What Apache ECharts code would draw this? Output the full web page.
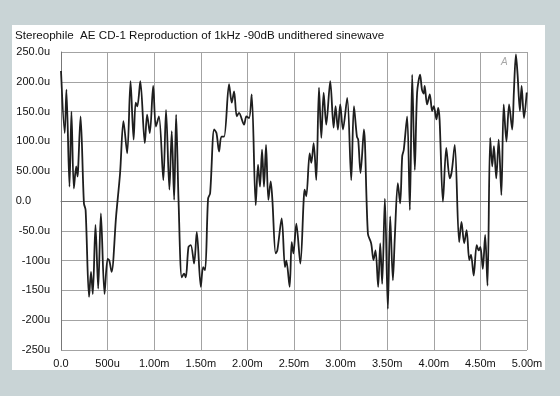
<!DOCTYPE html>
<html>
<head>
<meta charset="utf-8">
<script src="https://cdn.jsdelivr.net/npm/echarts@6/dist/echarts.min.js"></script>
<style>
html,body{margin:0;padding:0;background:#c9d4d6;}
#c{width:560px;height:396px;}
</style>
</head>
<body>
<div id="c"></div>
<script>
// time in microseconds
var timeUs = [0,40,58,91,112,138,163,178,185,210,246,264,301,322,341,370,399,428,467,500,518,543,591,634,670,710,746,779,801,819,851,899,924,953,989,1018,1051,1098,1127,1163,1188,1214,1235,
1261,1296,1321,1339,1368,1393,1428,1457,1500,1525,1546,1578,1600,1643,1668,1696,1721,1750,1803,1832,1857,1886,1910,1964,1989,2018,2046,2089,2114,2135,2157,2178,2200,2225,2250,2268,2303,2321,2368,2403,2418,2453,2475,2493,2525,
2568,2604,2614,2632,2668,2686,2711,2739,2768,2793,2818,2846,2889,2925,2946,2971,2996,3025,3071,3114,3143,3175,3189,3214,3250,3293,3328,3353,3375,3403,3425,3446,3475,3507,3532,3561,3582,3614,3639,3661,3678,3714,3743,3768,3796,3821,3853,
3873,3892,3902,3928,3957,3982,4000,4029,4047,4062,4098,4134,4171,4192,4225,4272,4297,4326,4352,4381,4399,4428,4460,4482,4500,4526,4551,4576,4605,4627,4645,4670,4696,4725,4750,4779,4808,4841,4859,4881,4899,4924,4942,4968,4997];
// amplitude in micro-units
var valueU = [218,114,187,24,150,21,58,41,58,142,-4,-15,-161,-119,-156,-40,-147,-21,-156,-97,-100,-119,-26,47,134,80,201,103,165,159,201,97,145,114,193,125,142,35,153,19,117,2,145,
2,-128,-122,-128,-77,-74,-105,-52,-144,-111,-116,4,13,120,114,83,108,108,196,165,184,142,148,128,142,139,179,-7,61,24,86,24,94,2,33,2,-88,-83,-29,-111,-100,-144,-69,-88,-38,
-105,2,19,8,80,64,97,35,190,106,182,128,201,123,159,120,162,120,173,35,159,108,103,47,120,-55,-71,-99,-83,-144,-71,-139,4,-181,-26,-133,-60,30,-4,75,86,142,-15,212,52,182,212,
187,180,193,162,179,151,159,137,156,137,-1,89,38,49,94,-69,-35,-71,-49,-99,-90,-125,-74,-83,-77,-114,-57,-142,106,58,92,38,103,10,162,100,162,120,182,246,212,151,193,139,182];

var xTicks = {0:'0.0',500:'500u',1000:'1.00m',1500:'1.50m',2000:'2.00m',2500:'2.50m',3000:'3.00m',3500:'3.50m',4000:'4.00m',4500:'4.50m',5000:'5.00m'};
var yTicks = {'250':'250.0u','200':'200.0u','150':'150.0u','100':'100.0u','50':'50.00u','0':'0.0','-50':'-50.0u','-100':'-100u','-150':'-150u','-200':'-200u','-250':'-250u'};
var titleText = 'Stereophile  AE CD-1 Reproduction of 1kHz -90dB undithered sinewave';

var data = timeUs.map(function(t,i){return [t, valueU[i]];});
var font = '"Liberation Sans", Arial, sans-serif';
var chart = echarts.init(document.getElementById('c'), null, {renderer:'canvas'});
chart.setOption({
  backgroundColor:'#c9d4d6',
  animation:false,
  graphic:[
    {type:'rect', left:12, top:25, shape:{width:533, height:345}, style:{fill:'#ffffff'}, z:-10},
    {type:'text', left:15, top:30, style:{text:titleText, fill:'#111111', font:'11.6px ' + font}},
    {type:'text', left:501, top:57, style:{text:'A', fill:'#a8a8a8', font:'italic 10px ' + font}}
  ],
  grid:{left:61, right:33, top:52, bottom:46},
  xAxis:{
    type:'value', min:0, max:5000, interval:500,
    axisLine:{show:true, lineStyle:{color:'#777', width:1}},
    axisTick:{show:false},
    splitLine:{show:true, lineStyle:{color:'#a3a3a3', width:1}},
    axisLabel:{color:'#111111', fontFamily:font, fontSize:11, margin:8,
      formatter:function(v){return xTicks[v] !== undefined ? xTicks[v] : '';}}
  },
  yAxis:{
    type:'value', min:-250, max:250, interval:50,
    axisLine:{show:true, lineStyle:{color:'#777', width:1}},
    axisTick:{show:false},
    splitLine:{show:true, lineStyle:{color:'#a3a3a3', width:1}},
    axisLabel:{color:'#111111', fontFamily:font, fontSize:11, margin:11,
      formatter:function(v){var s = yTicks[String(v)]; if(s===undefined) return ''; return v===0 ? '{z|'+s+'}' : s;},
      rich:{z:{color:'#111111', fontFamily:font, fontSize:11, padding:[0,19,0,0]}}}
  },
  series:[{
    type:'line', data:data, showSymbol:false, smooth:0.3,
    lineStyle:{color:'#1e1e1e', width:1.8},
    clip:true
  }]
});
</script>
</body>
</html>
